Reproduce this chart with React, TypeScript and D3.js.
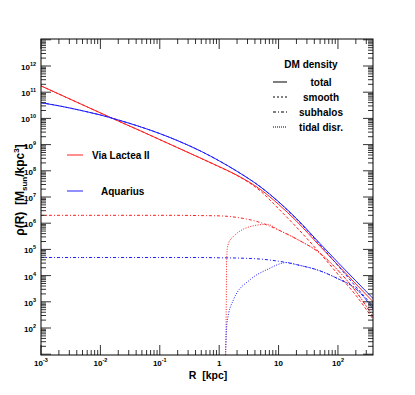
import * as d3 from "d3";

const W = 415;
const H = 395;
const M = { left: 41, top: 39, right: 42, bottom: 40 };

// radius grid (kpc) for the smooth / total / subhalo curves
const radius = [0.001, 0.002, 0.005, 0.01, 0.02, 0.05, 0.1, 0.2, 0.5, 1, 2, 5, 10, 20, 50, 100, 200, 400];

// log10 of density [M_sun/kpc^3]
const vl2Total = [11.24, 10.93, 10.52, 10.21, 9.9, 9.5, 9.19, 8.88, 8.47, 8.16, 7.83, 7.28, 6.72, 6.08, 5.12, 4.4, 3.68, 2.98];
const vl2Smooth = [11.24, 10.93, 10.52, 10.21, 9.9, 9.5, 9.19, 8.88, 8.47, 8.15, 7.82, 7.22, 6.55, 5.85, 4.85, 4.05, 3.25, 2.3];
const vl2Sub = [6.3, 6.3, 6.3, 6.3, 6.3, 6.3, 6.3, 6.3, 6.29, 6.28, 6.22, 6.02, 5.74, 5.4, 4.85, 4.2, 3.4, 2.4];

const aqTotal = [10.6, 10.48, 10.29, 10.13, 9.94, 9.66, 9.42, 9.15, 8.74, 8.38, 7.98, 7.38, 6.82, 6.18, 5.22, 4.5, 3.8, 3.1];
const aqSmooth = [10.6, 10.48, 10.29, 10.13, 9.94, 9.66, 9.42, 9.15, 8.74, 8.38, 7.98, 7.38, 6.81, 6.16, 5.17, 4.38, 3.58, 2.8];
const aqSub = [4.69, 4.69, 4.69, 4.69, 4.69, 4.69, 4.69, 4.69, 4.69, 4.68, 4.67, 4.63, 4.55, 4.42, 4.18, 3.88, 3.5, 2.7];

// tidal disruption curves have their own radii
const vl2TidalR = [1.274, 1.318, 1.334, 1.365, 1.445, 1.73, 2.24, 3.34, 6.4, 10, 20, 50, 100, 200, 400];
const vl2Tidal = [0.5, 3.0, 4.5, 5.0, 5.25, 5.49, 5.7, 5.87, 5.96, 5.74, 5.4, 4.85, 4.2, 3.4, 2.4];
const aqTidalR = [1.259, 1.29, 1.32, 1.354, 1.75, 3.34, 6.4, 13.9, 20, 50, 100, 200, 400];
const aqTidal = [0.5, 1.2, 1.8, 2.2, 3.09, 3.85, 4.23, 4.5, 4.42, 4.18, 3.88, 3.5, 2.7];

const xDecades = [-3, -2, -1, 0, 1, 2];
const yDecades = [2, 3, 4, 5, 6, 7, 8, 9, 10, 11, 12];

const legendItems = ["total", "smooth", "subhalos", "tidal disr."];
const legendDash = ["", "2,2", "3,2,1,2", "1,1"];

const RED = "#ff2020";
const BLUE = "#2020ff";
const FONT = "'Liberation Sans', Arial, sans-serif";

export default function App() {
  const x = d3.scaleLog().domain([1e-3, Math.pow(10, 2.59)]).range([M.left, W - M.right]);
  const y = d3.scaleLog().domain([Math.pow(10, 0.97), Math.pow(10, 13.03)]).range([H - M.bottom, M.top]);
  const [x0, x1] = x.range();
  const [y0, y1] = y.range();

  const line = (rs: number[], vals: number[]) =>
    d3
      .line<number>()
      .x((_, i) => x(rs[i]))
      .y((v) => y(Math.pow(10, v)))
      .curve(d3.curveMonotoneX)(vals) ?? "";

  const curves = [
    { d: line(radius, vl2Total), c: RED, dash: "" },
    { d: line(radius, vl2Smooth), c: RED, dash: "3,2" },
    { d: line(radius, vl2Sub), c: RED, dash: "3,2,1,2" },
    { d: line(vl2TidalR, vl2Tidal), c: RED, dash: "1,1.5" },
    { d: line(radius, aqTotal), c: BLUE, dash: "" },
    { d: line(radius, aqSmooth), c: BLUE, dash: "3,2" },
    { d: line(radius, aqSub), c: BLUE, dash: "3,2,1,2" },
    { d: line(aqTidalR, aqTidal), c: BLUE, dash: "1,1.5" },
  ];

  // ticks
  const xMajor: number[] = [];
  const xMinor: number[] = [];
  for (let e = -3; e <= 2; e++) {
    xMajor.push(Math.pow(10, e));
    for (let k = 2; k <= 9; k++) {
      const v = k * Math.pow(10, e);
      if (v <= x.domain()[1]) xMinor.push(v);
    }
  }
  const yMajor: number[] = [];
  const yMinor: number[] = [];
  for (let e = 0; e <= 13; e++) {
    const v = Math.pow(10, e);
    if (v >= y.domain()[0] && v <= y.domain()[1]) yMajor.push(v);
    for (let k = 2; k <= 9; k++) {
      const m = k * v;
      if (m >= y.domain()[0] && m <= y.domain()[1]) yMinor.push(m);
    }
  }

  const xLabel = (e: number) => {
    if (e === 0) return <tspan>1</tspan>;
    if (e === 1) return <tspan>10</tspan>;
    return (
      <>
        <tspan>10</tspan>
        <tspan dy={-4} fontSize={5.5}>
          {e}
        </tspan>
      </>
    );
  };

  return (
    <svg width={W} height={H} style={{ display: "block", position: "absolute", left: 0, top: 0 }} fontFamily={FONT}>
      <rect width={W} height={H} fill="white" />
      <defs>
        <clipPath id="plot">
          <rect x={x0} y={y1} width={x1 - x0} height={y0 - y1} />
        </clipPath>
      </defs>

      {/* curves */}
      <g clipPath="url(#plot)" fill="none" strokeWidth={1}>
        {curves.map((c, i) => (
          <path key={i} d={c.d} stroke={c.c} strokeDasharray={c.dash || undefined} />
        ))}
      </g>

      {/* ticks */}
      <g stroke="#333" strokeWidth={1}>
        {xMajor.map((v, i) => (
          <g key={"xM" + i}>
            <line x1={x(v)} x2={x(v)} y1={y0} y2={y0 - 10} />
            <line x1={x(v)} x2={x(v)} y1={y1} y2={y1 + 10} />
          </g>
        ))}
        {xMinor.map((v, i) => (
          <g key={"xm" + i}>
            <line x1={x(v)} x2={x(v)} y1={y0} y2={y0 - 5} />
            <line x1={x(v)} x2={x(v)} y1={y1} y2={y1 + 5} />
          </g>
        ))}
        {yMajor.map((v, i) => (
          <g key={"yM" + i}>
            <line x1={x0} x2={x0 + 10} y1={y(v)} y2={y(v)} />
            <line x1={x1} x2={x1 - 10} y1={y(v)} y2={y(v)} />
          </g>
        ))}
        {yMinor.map((v, i) => (
          <g key={"ym" + i}>
            <line x1={x0} x2={x0 + 5} y1={y(v)} y2={y(v)} />
            <line x1={x1} x2={x1 - 5} y1={y(v)} y2={y(v)} />
          </g>
        ))}
      </g>

      {/* frame */}
      <rect x={x0} y={y1} width={x1 - x0} height={y0 - y1} fill="none" stroke="black" strokeWidth={1} />

      {/* tick labels */}
      <g fontSize={8} fontWeight="bold" fill="black">
        {xDecades.map((e) => (
          <text key={"xl" + e} x={x(Math.pow(10, e))} y={y0 + 11} textAnchor="middle">
            {xLabel(e)}
          </text>
        ))}
        {yDecades.map((e) => (
          <text key={"yl" + e} x={36} y={y(Math.pow(10, e)) + 4} textAnchor="end">
            <tspan>10</tspan>
            <tspan dy={-4} fontSize={5.5}>
              {e}
            </tspan>
          </text>
        ))}
      </g>

      {/* axis titles */}
      <text x={208} y={379} textAnchor="middle" fontSize={10.5} fontWeight="bold">
        {"R\u00a0\u00a0[kpc]"}
      </text>
      <text transform="translate(24,190) rotate(-90)" textAnchor="middle" fontSize={12} fontWeight="bold">
        <tspan>{"ρ(R)\u00a0\u00a0[M"}</tspan>
        <tspan dy={3} fontSize={8}>sun</tspan>
        <tspan dy={-3}>/kpc</tspan>
        <tspan dy={-5} fontSize={8}>3</tspan>
        <tspan dy={5}>]</tspan>
      </text>

      {/* component legend */}
      <text x={311} y={68} textAnchor="middle" fontSize={10} fontWeight="bold">
        DM density
      </text>
      {legendItems.map((name, i) => (
        <g key={name}>
          <line x1={273} x2={287} y1={82 + i * 15} y2={82 + i * 15} stroke="black" strokeWidth={1} strokeDasharray={legendDash[i] || undefined} />
          <text x={321} y={85.5 + i * 15} textAnchor="middle" fontSize={10} fontWeight="bold">
            {name}
          </text>
        </g>
      ))}

      {/* simulation legend */}
      <line x1={67} x2={83} y1={155} y2={155} stroke={RED} />
      <text x={92} y={159} fontSize={10} fontWeight="bold">
        Via Lactea II
      </text>
      <line x1={67} x2={83} y1={191} y2={191} stroke={BLUE} />
      <text x={101} y={195} fontSize={10} fontWeight="bold">
        Aquarius
      </text>
    </svg>
  );
}
